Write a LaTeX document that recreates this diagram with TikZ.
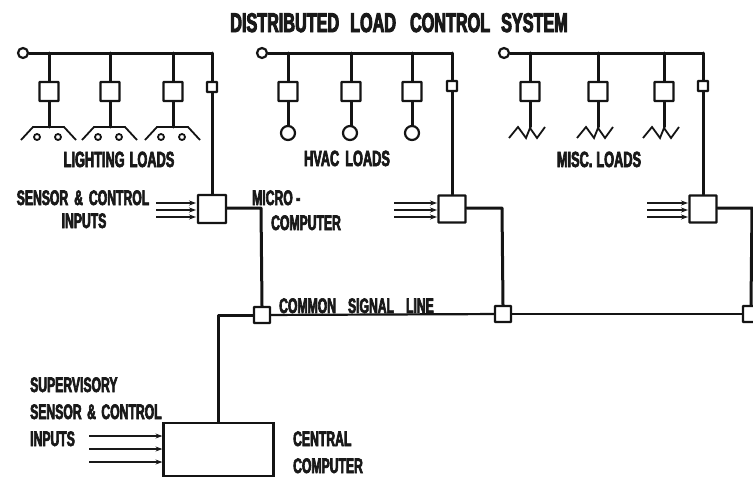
\documentclass[tikz,border=0pt]{standalone}
\usepackage{fontspec}
\newfontfamily\lblfont[FakeStretch=0.58,FakeBold=3]{Liberation Sans Bold}
\newfontfamily\ttlfont[FakeStretch=0.60,FakeBold=3.4]{Liberation Sans Bold}
\usetikzlibrary{arrows.meta}
\tikzset{
  x=1pt,y=-1pt,
  wire/.style={line width=3pt,line cap=round,line join=round,black!92},
  boxa/.style={draw=black!92,line width=2.3pt,fill=white,rounded corners=.6pt,inner sep=0pt,minimum width=#1,minimum height=#1},
  term/.style={draw=black!92,line width=2.2pt,fill=white,circle,inner sep=0pt,minimum size=#1},
  sig/.style={line width=1.1pt,black!90,-{Stealth[length=7pt,width=5pt]}},
  loadline/.style={line width=1.8pt,black!92,line join=miter},
  lbl/.style={font=\lblfont\fontsize{#1}{#1}\selectfont,text=black!90,inner sep=0pt,anchor=base},
  lbl/.default=22,
  lbll/.style={lbl=#1,anchor=base west},
  lbll/.default=22
}
\newcommand{\branch}[3]{% name, x, load coordinate y
  \coordinate (#1top) at (#2,53);
  \coordinate (#1end) at (#2,#3);
  \node[boxa=19pt] (#1) at (#2,91.5) {};
  \draw[wire] (#1top) -- (#1.north);
  \draw[wire] (#1.south) -- (#1end);
}
\newcommand{\lamp}[1]{%
  \draw[loadline] ([shift={(-28,13)}]#1end) -- ([shift={(-16,0)}]#1end) -- ([shift={(15,0)}]#1end) -- ([shift={(27,13)}]#1end);
  \node[term=6pt,line width=1.8pt] (#1a) at ([shift={(-12,10)}]#1end) {};
  \node[term=6pt,line width=1.8pt] (#1b) at ([shift={(9,10)}]#1end) {};
}
\newcommand{\zig}[1]{%
  \draw[loadline] ([shift={(-21,11)}]#1end) -- ([shift={(-12,0)}]#1end) -- ([shift={(-4,11)}]#1end) -- ([shift={(0,1)}]#1end) -- ([shift={(7,11)}]#1end) -- ([shift={(15,0)}]#1end);
}
\newcommand{\inputs}[3]{% box, x start, x end
  \coordinate (#1ia) at (#2,203);
  \coordinate (#1ib) at (#2,210);
  \coordinate (#1ic) at (#2,217);
  \draw[sig] (#1ia) -- (#3,203);
  \draw[sig] (#1ib) -- (#3,210);
  \draw[sig] (#1ic) -- (#3,217);
}
\begin{document}
\begin{tikzpicture}
\useasboundingbox (0,0) rectangle (753,477);
\fill[white] (0,0) rectangle (753,477);

% bus terminals and bus corners
\node[term=10pt] (t1) at (23,53) {};
\node[term=10pt] (t2) at (262,53) {};
\node[term=10pt] (t3) at (504,53) {};
\coordinate (c1) at (212,53);
\coordinate (c2) at (452,53);
\coordinate (c3) at (703,53);
\draw[wire] (t1) -- (c1);
\draw[wire] (t2) -- (c2);
\draw[wire] (t3) -- (c3);

% lighting loads
\branch{la}{49}{127}\lamp{la}
\branch{lb}{110}{127}\lamp{lb}
\branch{lc}{173}{127}\lamp{lc}
% hvac loads
\branch{ha}{288}{127}
\branch{hb}{351}{127}
\branch{hc}{412}{127}
\node[term=14pt] (hao) at (288,133) {};
\node[term=14pt] (hbo) at (350,133) {};
\node[term=14pt] (hco) at (412,133) {};
% misc loads
\branch{ma}{530}{127}\zig{ma}
\branch{mb}{598}{127}\zig{mb}
\branch{mc}{664}{127}\zig{mc}

% microcomputers
\node[boxa=28pt] (m1) at (212,209) {};
\node[boxa=27pt] (m2) at (452,209) {};
\node[boxa=27pt] (m3) at (703,209) {};
\node[boxa=10pt] (s1) at (212,87) {};
\node[boxa=10pt] (s2) at (452,86) {};
\node[boxa=10pt] (s3) at (703,86) {};
\draw[wire] (c1) -- (s1.north); \draw[wire] (s1.south) -- (m1.north);
\draw[wire] (c2) -- (s2.north); \draw[wire] (s2.south) -- (m2.north);
\draw[wire] (c3) -- (s3.north); \draw[wire] (s3.south) -- (m3.north);
\inputs{m1}{156}{196}
\inputs{m2}{394}{437}
\inputs{m3}{647}{688}

% common signal line
\node[boxa=16pt] (j1) at (262,315) {};
\node[boxa=16pt] (j2) at (503,314) {};
\node[boxa=16pt] (j3) at (751,314) {};
\coordinate (k1) at (261,208);
\coordinate (k2) at (502,208);
\coordinate (k3) at (752,208);
\draw[wire] (m1.east |- k1) -- (k1) -- (j1.north);
\draw[wire] (m2.east |- k2) -- (k2) -- (j2.north);
\draw[wire] (m3.east |- k3) -- (k3) -- (j3.north);
\draw[wire,line width=2.2pt] (j1) -- (j2);
\draw[wire,line width=1.6pt] (j2) -- (j3);

% central computer
\node[draw=black!92,line width=2.2pt,fill=white,inner sep=0pt,minimum width=110pt,minimum height=53pt] (cc) at (218.5,449.5) {};
\coordinate (c4) at (218,315);
\draw[wire] (j1) -- (c4) -- (cc.north -| c4);
\coordinate (ia) at (89,436);
\coordinate (ib) at (89,449);
\coordinate (ic) at (89,462);
\draw[sig] (ia) -- (cc.west |- ia);
\draw[sig] (ib) -- (cc.west |- ib);
\draw[sig] (ic) -- (cc.west |- ic);

% text
\node[font=\ttlfont\fontsize{27}{27}\selectfont,text=black!90,inner sep=0pt,anchor=base] (title) at (399,32) {DISTRIBUTED\hspace{11pt}LOAD\hspace{14pt}CONTROL\hspace{11pt}SYSTEM};
\node[lbl=22] (tl) at (119,167) {LIGHTING\hspace{5pt}LOADS};
\node[lbl=22] (th) at (347,166) {HVAC\hspace{6pt}LOADS};
\node[lbl=22] (tm) at (599,167) {MISC.\hspace{4pt}LOADS};
\node[lbl=21] (ts1) at (83,205) {SENSOR\hspace{6pt}\&\hspace{6pt}CONTROL};
\node[lbl=21] (ts2) at (84,228) {INPUTS};
\node[lbll=21] (mc1) at (252,205) {MICRO -};
\node[lbll=21] (mc2) at (271,230) {COMPUTER};
\node[lbll=21] (cs) at (279,313) {COMMON\hspace{12pt}SIGNAL\hspace{12pt}LINE};
\node[lbll=21] (s1t) at (30,392) {SUPERVISORY};
\node[lbll=21] (s2t) at (30,419) {SENSOR\hspace{5.5pt}\&\hspace{5.5pt}CONTROL};
\node[lbll=21] (s3t) at (30,446) {INPUTS};
\node[lbll=21] (ct1) at (293,446) {CENTRAL};
\node[lbll=21] (ct2) at (293,473) {COMPUTER};
\end{tikzpicture}
\end{document}
